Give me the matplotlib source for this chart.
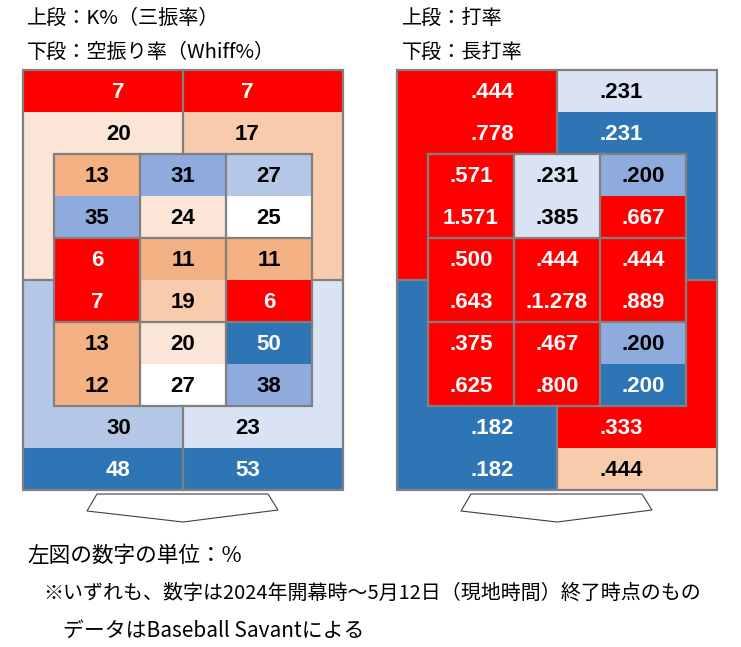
import matplotlib
matplotlib.use("Agg")
import matplotlib.pyplot as plt
from matplotlib.patches import Rectangle, Polygon

# colour buckets used in the zone charts
RED = '#FF0000'
BLUE = '#2E75B6'
BLUE2 = '#8FAADC'
BLUE3 = '#B4C7E7'
BLUE4 = '#DAE3F3'
WHITE = '#FFFFFF'
PEACH1 = '#FBE5D6'
PEACH2 = '#F8CBAD'
PEACH3 = '#F4B183'
GRID = '#808080'

# left chart: upper = K% (三振率), lower = Whiff% (空振り率)
# inner zone rows go top to bottom, columns left to right
k_inner = [[13, 31, 27], [6, 11, 11], [13, 20, 50]]
whiff_inner = [[35, 24, 25], [7, 19, 6], [12, 27, 38]]
k_inner_colors = [[PEACH3, BLUE2, BLUE3], [RED, PEACH3, PEACH3], [PEACH3, PEACH1, BLUE]]
whiff_inner_colors = [[BLUE2, PEACH1, WHITE], [RED, PEACH2, RED], [PEACH3, WHITE, BLUE2]]
# outer zones: top-left, top-right, bottom-left, bottom-right
k_outer = [7, 7, 30, 23]
whiff_outer = [20, 17, 48, 53]
k_outer_colors = [RED, RED, BLUE3, BLUE4]
whiff_outer_colors = [PEACH1, PEACH2, BLUE, BLUE]

# right chart: upper = 打率, lower = 長打率
avg_inner = [['.571', '.231', '.200'], ['.500', '.444', '.444'], ['.375', '.467', '.200']]
slg_inner = [['1.571', '.385', '.667'], ['.643', '.1.278', '.889'], ['.625', '.800', '.200']]
avg_inner_colors = [[RED, BLUE4, BLUE2], [RED, RED, RED], [RED, RED, BLUE2]]
slg_inner_colors = [[RED, BLUE4, RED], [RED, RED, RED], [RED, RED, BLUE]]
avg_outer = ['.444', '.231', '.182', '.333']
slg_outer = ['.778', '.231', '.182', '.444']
avg_outer_colors = [RED, BLUE4, BLUE, RED]
slg_outer_colors = [RED, BLUE, BLUE, PEACH2]

left_titles = ['上段：K%（三振率）', '下段：空振り率（Whiff%）']
right_titles = ['上段：打率', '下段：長打率']
notes = ['左図の数字の単位：%',
         '※いずれも、数字は2024年開幕時～5月12日（現地時間）終了時点のもの',
         'データはBaseball Savantによる']

# layout (pixels)
TOP = 70
MARGIN = 31
COL_W = 86
HALF_H = 42

NUM_FONT = dict(family='Liberation Sans', fontsize=16, fontweight='bold',
                ha='center', va='center')
JP_FONT = ['Noto Sans CJK JP', 'DejaVu Sans']


def text_color(bg):
    return 'white' if bg in (RED, BLUE) else 'black'


def cell(ax, x, y, w, h, color, label, tx=None):
    """Filled rectangle with a centred label (no border)."""
    ax.add_patch(Rectangle((x, y), w, h, facecolor=color, edgecolor='none'))
    if tx is None:
        tx = x + w / 2
    ax.text(tx, y + h / 2 + 1, str(label), color=text_color(color), **NUM_FONT)


def draw_zone(ax, x0, up_in, lo_in, up_in_c, lo_in_c, up_out, lo_out, up_out_c, lo_out_c):
    width = 2 * MARGIN + 3 * COL_W
    height = 10 * HALF_H
    x1 = x0 + width
    mid_x = x0 + width / 2
    ix0 = x0 + MARGIN
    ix1 = ix0 + 3 * COL_W
    iy0 = TOP + 2 * HALF_H
    iy1 = iy0 + 6 * HALF_H
    mid_y = TOP + height / 2

    # outer quadrants
    for q in range(4):
        left = q % 2 == 0
        qx = x0 if left else mid_x
        qw = mid_x - x0 if left else x1 - mid_x
        tx = (ix0 + mid_x) / 2 if left else (mid_x + ix1) / 2
        if q < 2:
            # band on top holds the upper stat, the L-shape the lower stat
            cell(ax, qx, TOP, qw, HALF_H, up_out_c[q], up_out[q], tx)
            ax.add_patch(Rectangle((qx, TOP + HALF_H), qw, mid_y - TOP - HALF_H,
                                   facecolor=lo_out_c[q], edgecolor='none'))
            ax.text(tx, TOP + 1.5 * HALF_H + 1, str(lo_out[q]),
                    color=text_color(lo_out_c[q]), **NUM_FONT)
        else:
            ax.add_patch(Rectangle((qx, mid_y), qw, iy1 + HALF_H - mid_y,
                                   facecolor=up_out_c[q], edgecolor='none'))
            ax.text(tx, iy1 + 0.5 * HALF_H + 1, str(up_out[q]),
                    color=text_color(up_out_c[q]), **NUM_FONT)
            cell(ax, qx, iy1 + HALF_H, qw, HALF_H, lo_out_c[q], lo_out[q], tx)

    # inner 3x3 zone, each cell split into two stacked halves
    for r in range(3):
        for c in range(3):
            cx = ix0 + c * COL_W
            cy = iy0 + r * 2 * HALF_H
            cell(ax, cx, cy, COL_W, HALF_H, up_in_c[r][c], up_in[r][c])
            cell(ax, cx, cy + HALF_H, COL_W, HALF_H, lo_in_c[r][c], lo_in[r][c])

    lw = 1.6
    # outer frame and splits
    ax.add_patch(Rectangle((x0, TOP), width, height, fill=False, edgecolor=GRID, lw=lw))
    ax.plot([mid_x, mid_x], [TOP, iy0], color=GRID, lw=lw)
    ax.plot([mid_x, mid_x], [iy1, TOP + height], color=GRID, lw=lw)
    ax.plot([x0, ix0], [mid_y, mid_y], color=GRID, lw=lw)
    ax.plot([ix1, x1], [mid_y, mid_y], color=GRID, lw=lw)
    # inner grid
    ax.add_patch(Rectangle((ix0, iy0), ix1 - ix0, iy1 - iy0, fill=False, edgecolor=GRID, lw=lw))
    for c in (1, 2):
        ax.plot([ix0 + c * COL_W] * 2, [iy0, iy1], color=GRID, lw=lw)
    for r in (1, 2):
        ax.plot([ix0, ix1], [iy0 + r * 2 * HALF_H] * 2, color=GRID, lw=lw)

    # chevron below the zone
    by = TOP + height
    arrow = [(mid_x - 86, by + 4), (mid_x + 85, by + 4), (mid_x + 95, by + 20),
             (mid_x, by + 32), (mid_x - 96, by + 21)]
    ax.add_patch(Polygon(arrow, closed=True, facecolor='white', edgecolor='#404040', lw=0.8))


def main():
    fig = plt.figure(figsize=(7.41, 6.47), dpi=100)
    ax = fig.add_axes([0, 0, 1, 1])
    ax.set_xlim(0, 741)
    ax.set_ylim(647, 0)
    ax.axis('off')

    draw_zone(ax, 23, k_inner, whiff_inner, k_inner_colors, whiff_inner_colors,
              k_outer, whiff_outer, k_outer_colors, whiff_outer_colors)
    draw_zone(ax, 397, avg_inner, slg_inner, avg_inner_colors, slg_inner_colors,
              avg_outer, slg_outer, avg_outer_colors, slg_outer_colors)

    for i, t in enumerate(left_titles):
        ax.text(27, 18 + i * 34, t, family=JP_FONT, fontsize=14.5, va='center', ha='left')
    for i, t in enumerate(right_titles):
        ax.text(402, 18 + i * 34, t, family=JP_FONT, fontsize=14.5, va='center', ha='left')

    ax.text(27, 556, notes[0], family=JP_FONT, fontsize=15.6, va='center', ha='left')
    ax.text(43, 593, notes[1], family=JP_FONT, fontsize=14.4, va='center', ha='left')
    ax.text(63, 631, notes[2], family=JP_FONT, fontsize=15, va='center', ha='left')

    fig.savefig('out.png', dpi=100)


if __name__ == "__main__":
    main()
